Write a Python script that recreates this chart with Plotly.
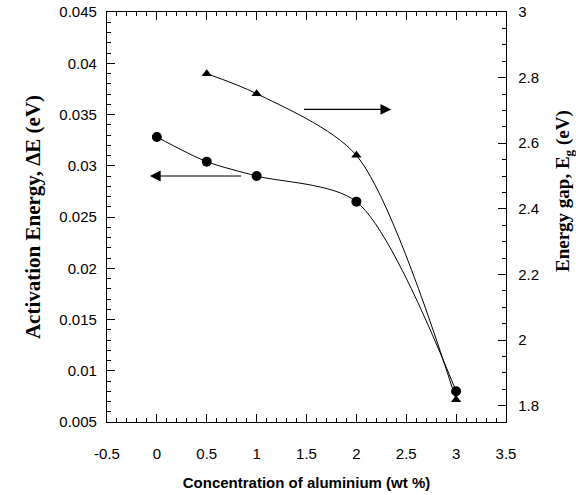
import plotly.graph_objects as go

conc_ae = [0, 0.5, 1, 2, 3]
activation_energy = [0.0328, 0.0304, 0.0290, 0.0265, 0.0080]

conc_eg = [0.5, 1, 2, 3]
energy_gap = [2.812, 2.751, 2.563, 1.818]

x_ticks = [-0.5, 0, 0.5, 1, 1.5, 2, 2.5, 3, 3.5]
y1_ticks = [0.005, 0.01, 0.015, 0.02, 0.025, 0.03, 0.035, 0.04, 0.045]
y2_ticks = [1.8, 2, 2.2, 2.4, 2.6, 2.8, 3]

tickfont = dict(family="Liberation Sans, Arial", size=15, color="black")

W, H = 576, 495
L, R, T, B = 107, 70, 12, 73

fig = go.Figure()
fig.add_trace(go.Scatter(
    x=conc_ae, y=activation_energy, mode="lines+markers",
    line=dict(color="black", width=1, shape="spline", smoothing=0.8),
    marker=dict(symbol="circle", size=10, color="black"),
    yaxis="y", showlegend=False))
fig.add_trace(go.Scatter(
    x=conc_eg, y=energy_gap, mode="lines+markers",
    line=dict(color="black", width=1, shape="spline", smoothing=0.8),
    marker=dict(symbol="triangle-up", size=9, color="black"),
    yaxis="y2", showlegend=False))

fig.update_layout(
    width=W, height=H,
    margin=dict(l=L, r=R, t=T, b=B, autoexpand=False),
    paper_bgcolor="white", plot_bgcolor="white",
    xaxis=dict(
        range=[-0.5, 3.5], tickvals=x_ticks, ticktext=[str(v) for v in x_ticks],
        showline=True, linecolor="black", linewidth=1.3, mirror="ticks",
        ticks="inside", ticklen=8, tickwidth=1.2, tickcolor="black",
        minor=dict(dtick=0.1, ticks="inside", ticklen=4, tickwidth=1, tickcolor="black"),
        showgrid=False, zeroline=False, tickfont=tickfont, ticklabelstandoff=18,
        automargin=False, ticklabeloverflow="allow",
        title=dict(text="<b>Concentration of aluminium (wt %)</b>",
                   font=dict(family="Liberation Sans, Arial", size=15, color="black"),
                   standoff=16),
    ),
    yaxis=dict(
        range=[0.005, 0.045], tickvals=y1_ticks, ticktext=[f"{v:g}" for v in y1_ticks],
        showline=True, linecolor="black", linewidth=1.3,
        ticks="inside", ticklen=8, tickwidth=1.2, tickcolor="black",
        minor=dict(dtick=0.001, ticks="inside", ticklen=4, tickwidth=1, tickcolor="black"),
        showgrid=False, zeroline=False, tickfont=tickfont, ticklabelstandoff=6,
        automargin=False, ticklabeloverflow="allow",
        title=dict(text="<b>Activation Energy, ΔE (eV)</b>",
                   font=dict(family="Liberation Serif, Times New Roman", size=21, color="black"),
                   standoff=12),
    ),
    yaxis2=dict(
        range=[1.75, 3], tickvals=y2_ticks, ticktext=[f"{v:g}" for v in y2_ticks],
        overlaying="y", side="right",
        showline=True, linecolor="black", linewidth=1.3,
        ticks="inside", ticklen=8, tickwidth=1.2, tickcolor="black",
        minor=dict(dtick=0.05, ticks="inside", ticklen=4, tickwidth=1, tickcolor="black"),
        showgrid=False, zeroline=False, tickfont=tickfont, ticklabelstandoff=8,
        automargin=False, ticklabeloverflow="allow",
    ),
    annotations=[
        dict(x=2.35, y=0.0355, ax=1.46, ay=0.0355, xref="x", yref="y", axref="x", ayref="y",
             text="", showarrow=True, arrowhead=2, arrowsize=1.8, arrowwidth=1.2, arrowcolor="black"),
        dict(x=-0.07, y=0.0290, ax=0.86, ay=0.0290, xref="x", yref="y", axref="x", ayref="y",
             text="", showarrow=True, arrowhead=2, arrowsize=1.8, arrowwidth=1.2, arrowcolor="black"),
        dict(x=(564 - L) / (W - L - R), y=(H - B - 191) / (H - T - B),
             xref="paper", yref="paper", xanchor="center", yanchor="middle",
             text="<b>Energy gap, E<sub>g</sub> (eV)</b>",
             showarrow=False, textangle=-90,
             font=dict(family="Liberation Serif, Times New Roman", size=19, color="black")),
    ],
)

fig.write_html("out.html", config={"displayModeBar": False},
               post_script="document.body.style.margin='0px';")
